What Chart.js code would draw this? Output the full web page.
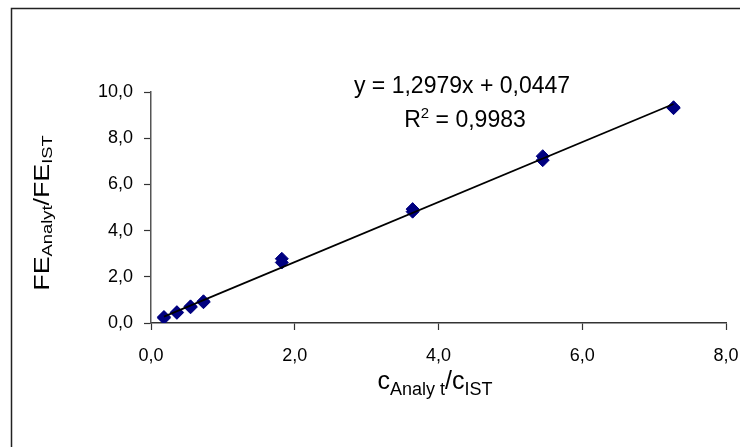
<!DOCTYPE html>
<html>
<head>
<meta charset="utf-8">
<script src="https://cdn.jsdelivr.net/npm/chart.js@4"></script>
<style>
  html, body { margin: 0; padding: 0; background: #fff; }
  #wrap { width: 740px; height: 447px; position: relative; }
</style>
</head>
<body>
<div id="wrap"><canvas id="chart" width="740" height="447"></canvas></div>
<script>
// concentration ratio c_Analyt / c_IST (two injections per level)
const ratioConc = [0.18, 0.18, 0.36, 0.36, 0.55, 0.55, 0.73, 0.73, 1.82, 1.82, 3.64, 3.64, 5.45, 5.45, 7.27, 7.27];
// peak area ratio FE_Analyt / FE_IST
const ratioSignal = [0.22, 0.26, 0.44, 0.47, 0.68, 0.72, 0.90, 0.94, 2.62, 2.78, 4.82, 4.93, 7.05, 7.22, 9.30, 9.34];
const xTicks = [0, 2, 4, 6, 8];
const yTicks = [0, 2, 4, 6, 8, 10];
// linear trendline as printed on the chart
const slope = 1.2979;
const intercept = 0.0447;
const rSquared = 0.9983;

const FONT = "'Liberation Sans', Arial, sans-serif";
const fmt = v => v.toFixed(1).replace('.', ',');

const xMin = Math.min(...ratioConc), xMax = Math.max(...ratioConc);
const trend = [xMin, xMax].map(x => ({ x: x, y: slope * x + intercept }));
const points = ratioConc.map((x, i) => ({ x: x, y: ratioSignal[i] }));

// draws a run of [text, size, dy] pieces, centred on (cx, cy)
function drawRich(ctx, parts, cx, cy, stretch) {
  let total = 0;
  parts.forEach(p => { ctx.font = p[1] + 'px ' + FONT; total += ctx.measureText(p[0]).width; });
  ctx.save();
  ctx.translate(cx, cy);
  ctx.scale(stretch, 1);
  let x = -total / 2;
  parts.forEach(p => {
    ctx.font = p[1] + 'px ' + FONT;
    ctx.fillText(p[0], x, p[2]);
    x += ctx.measureText(p[0]).width;
  });
  ctx.restore();
}

const decorations = {
  id: 'decorations',
  beforeDraw(chart) {
    const ctx = chart.ctx;
    ctx.save();
    ctx.fillStyle = '#fff';
    ctx.fillRect(0, 0, chart.width, chart.height);
    ctx.strokeStyle = '#222';
    ctx.lineWidth = 1.5;
    ctx.strokeRect(11.5, 8.5, 900, 900);
    ctx.restore();
  },
  afterDraw(chart) {
    const ctx = chart.ctx;
    ctx.save();
    ctx.fillStyle = '#000';
    ctx.textBaseline = 'alphabetic';
    ctx.textAlign = 'left';
    // trendline equation
    drawRich(ctx, [['y = 1,2979x + 0,0447', 23, 0]], 462, 93, 1);
    drawRich(ctx, [['R', 23, 0], ['2', 15, -9], [' = ' + String(rSquared).replace('.', ','), 23, 0]], 465, 127, 1);
    // x axis title
    drawRich(ctx, [['c', 25, 0], ['Analy t', 18, 6], ['/', 25, 0], ['c', 25, 0], ['IST', 18, 6]], 435, 389, 1);
    // y axis title (rotated)
    ctx.save();
    ctx.translate(49, 213);
    ctx.rotate(-Math.PI / 2);
    drawRich(ctx, [['FE', 22, 0], ['Analyt', 15, 3], ['/FE', 22, 0], ['IST', 15, 3]], 0, 0, 1.22);
    ctx.restore();
    ctx.restore();
  }
};

new Chart(document.getElementById('chart'), {
  type: 'scatter',
  data: {
    datasets: [
      {
        type: 'line',
        data: trend,
        borderColor: '#000',
        borderWidth: 1.8,
        pointRadius: 0,
        fill: false,
        order: 0
      },
      {
        data: points,
        pointStyle: 'rectRot',
        pointRadius: 6.5,
        backgroundColor: '#000080',
        borderColor: '#000080',
        borderWidth: 1,
        order: 1
      }
    ]
  },
  options: {
    responsive: false,
    animation: false,
    layout: { padding: { left: 0, top: 92, right: 14, bottom: 0 } },
    plugins: { legend: { display: false }, tooltip: { enabled: false } },
    scales: {
      x: {
        type: 'linear',
        min: xTicks[0],
        max: xTicks[xTicks.length - 1],
        afterBuildTicks: s => { s.ticks = xTicks.map(v => ({ value: v })); },
        afterFit: s => { s.height = 124; s.paddingRight = 14; },
        ticks: { callback: fmt, color: '#000', font: { family: FONT, size: 18 }, padding: 15, maxRotation: 0 },
        grid: { drawOnChartArea: false, color: '#333', tickLength: 7, tickWidth: 1.2 },
        border: { color: '#333', width: 1.5 }
      },
      y: {
        type: 'linear',
        min: yTicks[0],
        max: yTicks[yTicks.length - 1],
        afterBuildTicks: s => { s.ticks = yTicks.map(v => ({ value: v })); },
        afterFit: s => { s.width = 151; },
        ticks: { callback: fmt, color: '#000', font: { family: FONT, size: 18 }, padding: 11 },
        grid: { drawOnChartArea: false, color: '#333', tickLength: 7, tickWidth: 1.2 },
        border: { color: '#555', width: 1.5 }
      }
    }
  },
  plugins: [decorations]
});
</script>
</body>
</html>
